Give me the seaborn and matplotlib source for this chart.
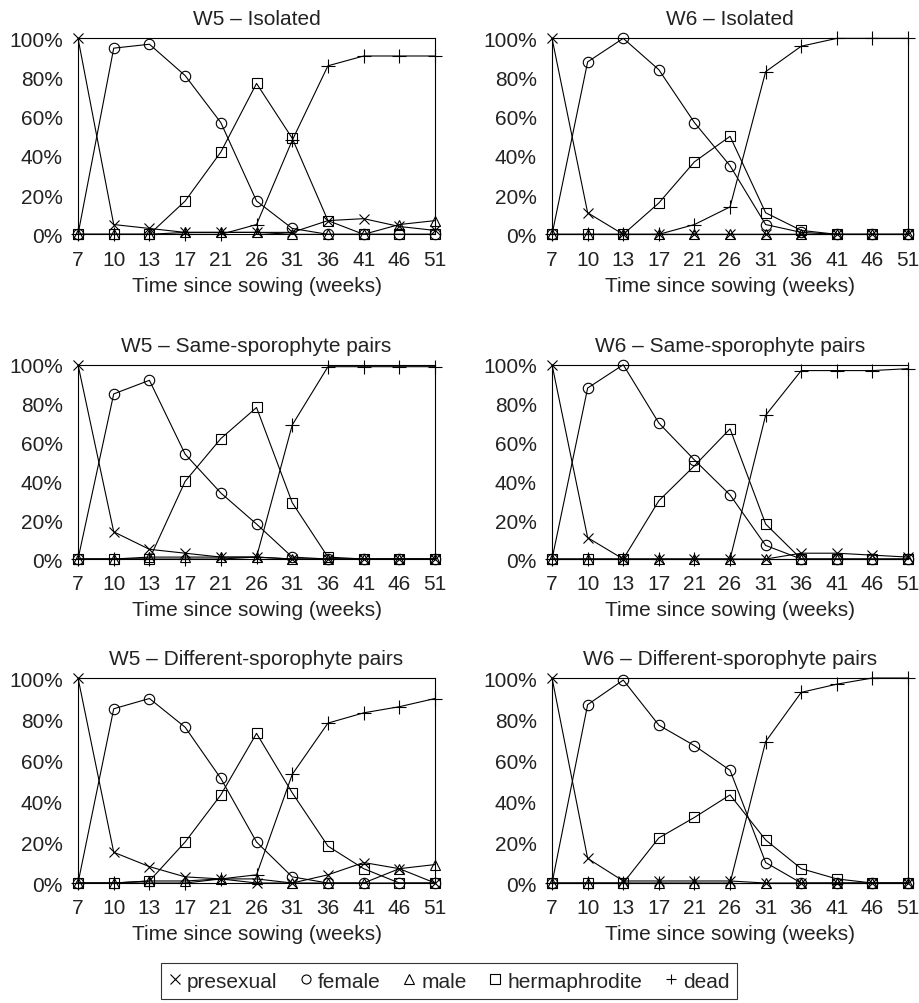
import numpy as np
import pandas as pd
import matplotlib
matplotlib.use("Agg")
import matplotlib.pyplot as plt
from matplotlib.lines import Line2D
import seaborn as sns

# weeks since sowing, plotted at equal spacing
weeks = [7, 10, 13, 17, 21, 26, 31, 36, 41, 46, 51]
stages = ["presexual", "female", "male", "hermaphrodite", "dead"]

# percentages per stage, rows in the order of `stages`
w5_isolated = [
    [100, 5, 3, 1, 1, 1, 1, 7, 8, 4, 2],
    [0, 95, 97, 81, 57, 17, 3, 0, 0, 0, 0],
    [0, 0, 0, 1, 1, 1, 0, 0, 0, 5, 7],
    [0, 0, 0, 17, 42, 77, 49, 7, 0, 0, 0],
    [0, 0, 0, 0, 0, 5, 48, 86, 91, 91, 91],
]
w6_isolated = [
    [100, 11, 0, 0, 0, 0, 0, 0, 0, 0, 0],
    [0, 88, 100, 84, 57, 35, 5, 1, 0, 0, 0],
    [0, 0, 0, 0, 0, 0, 0, 0, 0, 0, 0],
    [0, 0, 0, 16, 37, 50, 11, 2, 0, 0, 0],
    [0, 0, 0, 0, 5, 14, 83, 96, 100, 100, 100],
]
w5_same = [
    [100, 14, 5, 3, 1, 1, 0, 0, 0, 0, 0],
    [0, 85, 92, 54, 34, 18, 1, 0, 0, 0, 0],
    [0, 0, 1, 1, 1, 1, 0, 0, 0, 0, 0],
    [0, 0, 0, 40, 62, 78, 29, 1, 0, 0, 0],
    [0, 0, 0, 0, 0, 1, 69, 99, 99, 99, 99],
]
w6_same = [
    [100, 11, 0, 0, 0, 0, 0, 3, 3, 2, 1],
    [0, 88, 100, 70, 51, 33, 7, 0, 0, 0, 0],
    [0, 0, 0, 0, 0, 0, 0, 0, 0, 0, 0],
    [0, 0, 0, 30, 48, 67, 18, 0, 0, 0, 0],
    [0, 0, 0, 0, 0, 0, 74, 97, 97, 97, 98],
]
w5_different = [
    [100, 15, 8, 3, 2, 0, 0, 4, 10, 7, 0],
    [0, 85, 90, 76, 51, 20, 3, 0, 0, 0, 0],
    [0, 0, 1, 1, 2, 2, 0, 0, 0, 7, 9],
    [0, 0, 1, 20, 43, 73, 44, 18, 7, 0, 0],
    [0, 0, 0, 0, 2, 4, 53, 78, 83, 86, 90],
]
w6_different = [
    [100, 12, 1, 1, 1, 1, 0, 0, 0, 0, 0],
    [0, 87, 99, 77, 67, 55, 10, 0, 0, 0, 0],
    [0, 0, 0, 0, 0, 0, 0, 0, 0, 0, 0],
    [0, 0, 0, 22, 32, 43, 21, 7, 2, 0, 0],
    [0, 0, 0, 0, 0, 0, 69, 93, 97, 100, 100],
]

panels = [
    ("W5 \u2013 Isolated", w5_isolated),
    ("W6 \u2013 Isolated", w6_isolated),
    ("W5 \u2013 Same-sporophyte pairs", w5_same),
    ("W6 \u2013 Same-sporophyte pairs", w6_same),
    ("W5 \u2013 Different-sporophyte pairs", w5_different),
    ("W6 \u2013 Different-sporophyte pairs", w6_different),
]

markers = {"presexual": "x", "female": "o", "male": "^", "hermaphrodite": "s", "dead": "+"}
msizes = {"presexual": 7.5, "female": 7.5, "male": 7.5, "hermaphrodite": 7.5, "dead": 9.5}

sns.set_style("white")
plt.rcParams["font.family"] = ["Liberation Sans", "DejaVu Sans"]
plt.rcParams["font.size"] = 15

fig = plt.figure(figsize=(9.19, 10.04), dpi=100)

# axes boxes in figure fractions [left, bottom, width, height]
col_left = [0.0849, 0.6007]
col_width = [0.3885, 0.3874]
row_box = [(0.7656, 0.1952), (0.4422, 0.1935), (0.1195, 0.2042)]

xpos = np.arange(len(weeks))

for i, (title, rows) in enumerate(panels):
    r, c = divmod(i, 2)
    ax = fig.add_axes([col_left[c], row_box[r][0], col_width[c], row_box[r][1]])
    for stage, vals in zip(stages, rows):
        df = pd.DataFrame({"x": xpos, "y": vals})
        sns.lineplot(data=df, x="x", y="y", ax=ax, color="black", linewidth=0.8,
                     marker=markers[stage], markersize=msizes[stage],
                     markerfacecolor="none", markeredgecolor="black",
                     markeredgewidth=0.8, clip_on=False, legend=False)
    ax.set_xlim(xpos[0], xpos[-1])
    ax.set_ylim(0, 100)
    ax.set_xticks(xpos)
    ax.set_xticklabels([str(w) for w in weeks])
    ax.set_yticks([0, 20, 40, 60, 80, 100])
    ax.set_yticklabels([f"{v}%" for v in [0, 20, 40, 60, 80, 100]])
    ax.tick_params(axis="both", length=0, labelsize=15, colors="#222222")
    ax.tick_params(axis="y", pad=11)
    ax.tick_params(axis="x", pad=11)
    ax.set_xlabel("Time since sowing (weeks)", fontsize=15, labelpad=5, color="#222222")
    ax.set_ylabel("")
    ax.set_title(title, fontsize=15, pad=10, color="#222222")
    for sp in ax.spines.values():
        sp.set_visible(True)
        sp.set_color("black")
        sp.set_linewidth(0.8)

handles = [Line2D([], [], color="black", linestyle="none", marker=markers[s],
                  markersize=6.5, markerfacecolor="none", markeredgewidth=0.8)
           for s in stages]
leg = fig.legend(handles, stages, loc="upper center", bbox_to_anchor=(0.4886, 0.0395),
                 ncol=5, frameon=True, fancybox=False, edgecolor="black",
                 fontsize=15, handlelength=0.55, handletextpad=0.3,
                 columnspacing=1.1, borderpad=0.4, borderaxespad=0)
leg.get_frame().set_linewidth(0.8)

fig.savefig("out.png", dpi=100)
